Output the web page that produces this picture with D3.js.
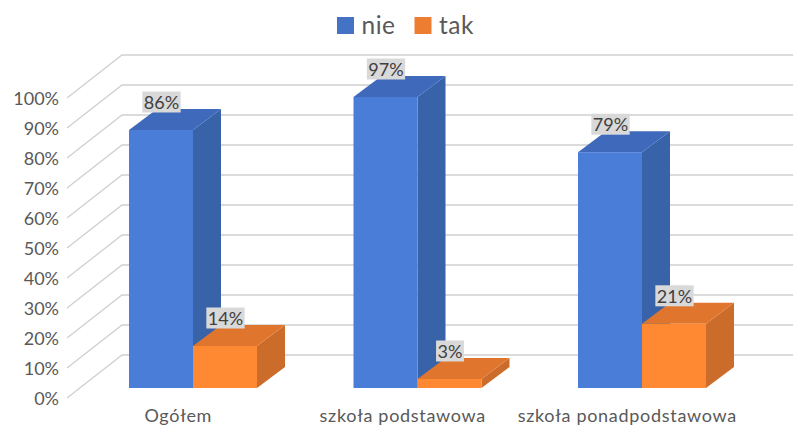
<!DOCTYPE html>
<html>
<head>
<meta charset="utf-8">
<script src="https://cdn.jsdelivr.net/npm/d3@7"></script>
<style>
  html, body { margin: 0; padding: 0; background: #fff; }
  text { font-family: Lato, "Open Sans", sans-serif; }
</style>
</head>
<body>
<div class="content"></div>
<script>
// Chart data
var categories = ["Ogółem", "szkoła podstawowa", "szkoła ponadpodstawowa"];
var seriesNames = ["nie", "tak"];
var nieValues = [86, 97, 78.6];
var takValues = [14, 3, 21.4];
var yTicks = [0, 10, 20, 30, 40, 50, 60, 70, 80, 90, 100];

var svgWidth = 793;
var svgHeight = 426;

var colors = { nie: "#4a7dd8", tak: "#ff8833" };
var topColors = { nie: "#3f69bb", tak: "#e0762d" };
var sideColors = { nie: "#3963a9", tak: "#cc6c2a" };
var legendColors = { nie: "#4472c4", tak: "#ed7d31" };

var svg = d3.select(".content")
  .append("svg")
  .attr("width", svgWidth)
  .attr("height", svgHeight)
  .style("display", "block");

// y scale for the front plane of the bars, the walls are the same scale shifted
var yScale = d3.scaleLinear().domain([0, 100]).range([388, 88]);
var xScale = d3.scaleBand().domain(categories).range([80, 753.5]);

var seriesScale = d3.scaleBand().domain(seriesNames).range([49, 177]);

// 3d offsets
var axisShift = 10;   // labels and axis edge sit below the bar front
var wallDx = 55, wallDy = 43, wallLeft = 67;
var barDx = 28, barDy = 21;

// gridlines on the back wall and the left wall
var grid = svg.append("g").attr("stroke", "#d0d0d0").attr("stroke-width", 1.3).attr("fill", "none");

yTicks.forEach(function(t) {
  var yFront = yScale(t) + axisShift;
  var path = d3.path();
  path.moveTo(wallLeft, yFront);
  path.lineTo(wallLeft + wallDx, yFront - wallDy);
  path.lineTo(svgWidth, yFront - wallDy);
  grid.append("path").attr("d", path.toString());
});

// y axis labels
svg.append("g").selectAll("text")
  .data(yTicks)
  .enter()
  .append("text")
  .attr("x", 59)
  .attr("y", d => yScale(d) + axisShift)
  .attr("dy", "0.4em")
  .attr("text-anchor", "end")
  .attr("font-size", 18)
  .attr("fill", "#595959")
  .text(d => d + "%");

function drawBar(group, cat, name, value) {
  var x0 = xScale(cat) + seriesScale(name);
  var x1 = x0 + seriesScale.bandwidth();
  var yTop = yScale(value);
  var yBase = yScale(0);

  var side = d3.path();
  side.moveTo(x1, yTop);
  side.lineTo(x1 + barDx, yTop - barDy);
  side.lineTo(x1 + barDx, yBase - barDy);
  side.lineTo(x1, yBase);
  side.closePath();
  group.append("path").attr("d", side.toString()).attr("fill", sideColors[name]);

  var top = d3.path();
  top.moveTo(x0, yTop);
  top.lineTo(x0 + barDx, yTop - barDy);
  top.lineTo(x1 + barDx, yTop - barDy);
  top.lineTo(x1, yTop);
  top.closePath();
  group.append("path").attr("d", top.toString()).attr("fill", topColors[name]);

  group.append("rect")
    .attr("x", x0)
    .attr("y", yTop)
    .attr("width", x1 - x0)
    .attr("height", yBase - yTop)
    .attr("fill", colors[name]);
}

var bars = svg.append("g");
categories.forEach(function(cat, i) {
  drawBar(bars, cat, "nie", nieValues[i]);
  drawBar(bars, cat, "tak", takValues[i]);
});

// data labels with the grey box behind them, box width follows the text
function drawLabel(cat, name, value) {
  var cx = xScale(cat) + seriesScale(name) + seriesScale.bandwidth() / 2 + 0.5;
  var cy = yScale(value) - 28;
  var label = svg.append("g");
  var box = label.append("rect")
    .attr("y", cy - 10.5)
    .attr("height", 21)
    .attr("fill", "#d9d9d9");
  var text = label.append("text")
    .attr("x", cx)
    .attr("y", cy)
    .attr("dy", "0.38em")
    .attr("text-anchor", "middle")
    .attr("font-size", 18)
    .attr("fill", "#404040")
    .text(Math.round(value) + "%");
  var w = text.node().getComputedTextLength() + 3;
  box.attr("x", cx - w / 2).attr("width", w);
}

categories.forEach(function(cat, i) {
  drawLabel(cat, "nie", nieValues[i]);
  drawLabel(cat, "tak", takValues[i]);
});

// category labels
svg.append("g").selectAll("text")
  .data(categories)
  .enter()
  .append("text")
  .attr("x", d => xScale(d) + xScale.bandwidth() / 2 - 14)
  .attr("y", 416)
  .attr("dy", "0.35em")
  .attr("text-anchor", "middle")
  .attr("font-size", 18)
  .attr("letter-spacing", 0.7)
  .attr("fill", "#595959")
  .text(d => d);

// legend
var legendX = { nie: 337, tak: 414.5 };
var legend = svg.append("g");
seriesNames.forEach(function(name) {
  legend.append("rect")
    .attr("x", legendX[name])
    .attr("y", 17)
    .attr("width", 17)
    .attr("height", 17)
    .attr("fill", legendColors[name]);
  legend.append("text")
    .attr("x", legendX[name] + 24.5)
    .attr("y", 25)
    .attr("dy", "0.36em")
    .attr("font-size", 24.5)
    .attr("letter-spacing", 0.5)
    .attr("fill", "#595959")
    .text(name);
});
</script>
</body>
</html>
